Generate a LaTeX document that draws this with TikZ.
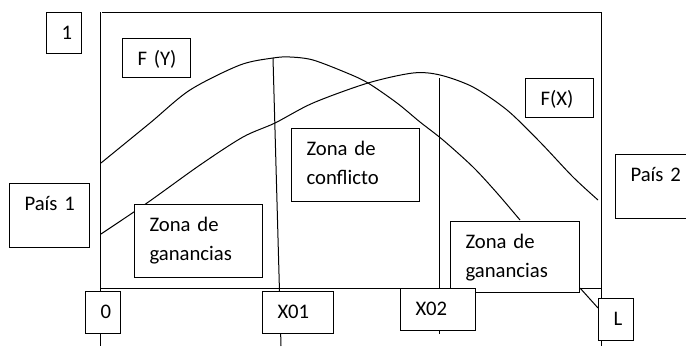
\documentclass[tikz,border=0pt]{standalone}
\usepackage{fontspec}
\setmainfont{Carlito}
\usetikzlibrary{calc}
\newcommand\zbox[6]{%
  \node[boxst, minimum width={#4-#2}, minimum height={#5-#3}, anchor=north west] (#1) at (#2,#3) {};
  \node[txt, anchor=base west] (#1t) at ($(#1.north west)+(15,27.5)$) {#6};
}
\begin{document}
\begin{tikzpicture}[x=1pt,y=-1pt, line width=1pt,
  boxst/.style={draw, fill=white, line width=1.1pt, inner sep=0pt, rectangle},
  txt/.style={inner sep=0pt, text width=130pt, align=left, font=\fontsize{20.7}{29}\selectfont},
  curve/.style={line width=1pt, smooth}]
\useasboundingbox (0,0) rectangle (686,346);
\clip (0,0) rectangle (686,346);
% axes
\draw (100,12) -- (100,346);
\draw (102,12) -- (601,12);
\draw (601,12) -- (601,346);
\draw (100,288) -- (601,288);
% vertical markers
\draw (273,58) -- (281,346);
\draw (439,78) -- (439,334);
% curves
\draw[curve] plot coordinates {(101,163) (150,123) (190,90) (240,65) (273,58) (290,57) (313,60) (347,73) (368,83) (397,103) (420,122) (443,140) (473,167) (497,193) (520,220)};
\draw[curve] plot coordinates {(101,234) (147,203) (200,165) (243,137) (275,123) (313,103) (368,83) (413,73) (440,75) (473,87) (507,110) (540,142) (573,177) (598,200)};
% boxes
\zbox{one}{46}{12}{81}{53}{1}
\zbox{fy}{122}{38}{190}{77}{F (Y)}
\zbox{fx}{525}{78}{593}{117}{F(X)}
\zbox{p1}{9}{183}{89}{247}{País 1}
\zbox{p2}{615}{154}{692}{218}{País 2}
\zbox{gl}{134}{204}{262}{277}{Zona de\\ganancias}
\zbox{zc}{291}{128}{419}{201}{Zona de\\conflicto}
\zbox{gr}{450}{221}{579}{292}{Zona de\\ganancias}
\zbox{zero}{85}{291}{120}{333}{0}
\zbox{xa}{262}{291}{333}{333}{X01}
\zbox{xb}{400}{288}{475}{330}{X02}
\zbox{ell}{598}{298}{633}{340}{L}
% connector
\draw ([yshift=5pt]gr.south east) -- ([yshift=-10pt]ell.north west);
\end{tikzpicture}
\end{document}
